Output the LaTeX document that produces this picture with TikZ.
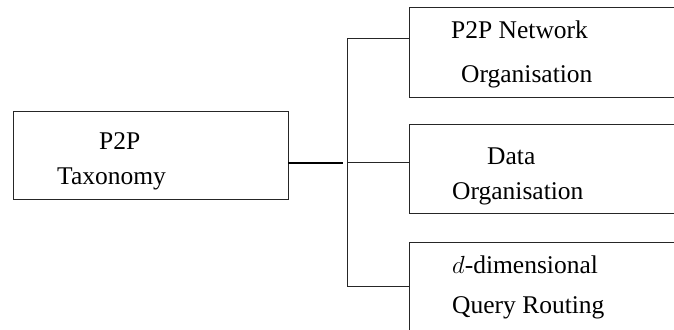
\documentclass[tikz,border=0pt]{standalone}
\usepackage{fontspec}
\setmainfont{Liberation Serif}
\begin{document}
\begin{tikzpicture}[x=1bp,y=-1bp,
    box/.style={draw=black!85, line width=0.9bp, rectangle, inner sep=0pt},
    lbl/.style={anchor=base west, inner sep=0pt, font=\fontsize{25.5bp}{30bp}\selectfont},
    wire/.style={draw=black!85, line width=0.9bp},
    trunk/.style={draw=black, line width=1.8bp}]
  \useasboundingbox (0,0) rectangle (674,329);
  \clip (0,0) rectangle (674,329);

  % root box
  \node[box, minimum width=275bp, minimum height=88bp] (root) at (150.5,155) {};
  \node[lbl] (rootA) at (99,149) {P2P};
  \node[lbl] (rootB) at (57,184) {Taxonomy};

  % child boxes (right side runs past the page edge)
  \node[box, minimum width=280bp, minimum height=90bp] (net) at (549,52) {};
  \node[box, minimum width=280bp, minimum height=89bp] (data) at (549,168.5) {};
  \node[box, minimum width=280bp, minimum height=100bp] (route) at (549,292) {};

  \node[lbl] (netA) at (451,38) {P2P Network};
  \node[lbl] (netB) at (461,82) {Organisation};
  \node[lbl] (dataA) at (487,164) {Data};
  \node[lbl] (dataB) at (452,199) {Organisation};
  \node[lbl] (routeA) at (452,273) {$d$-dimensional};
  \node[lbl] (routeB) at (452,313) {Query Routing};

  % connectors
  \coordinate (hub) at (343,163);
  \coordinate (spineTop) at (347,38);
  \coordinate (spineBot) at (347,286);
  \draw[trunk] (root.east |- hub) -- (hub);
  \draw[wire] (spineTop) -- (spineBot);
  \draw[wire] (spineTop) -- (net.west |- spineTop);
  \draw[wire] (347,162) -- (data.west |- 0,162);
  \draw[wire] (spineBot) -- (route.west |- spineBot);
\end{tikzpicture}
\end{document}
